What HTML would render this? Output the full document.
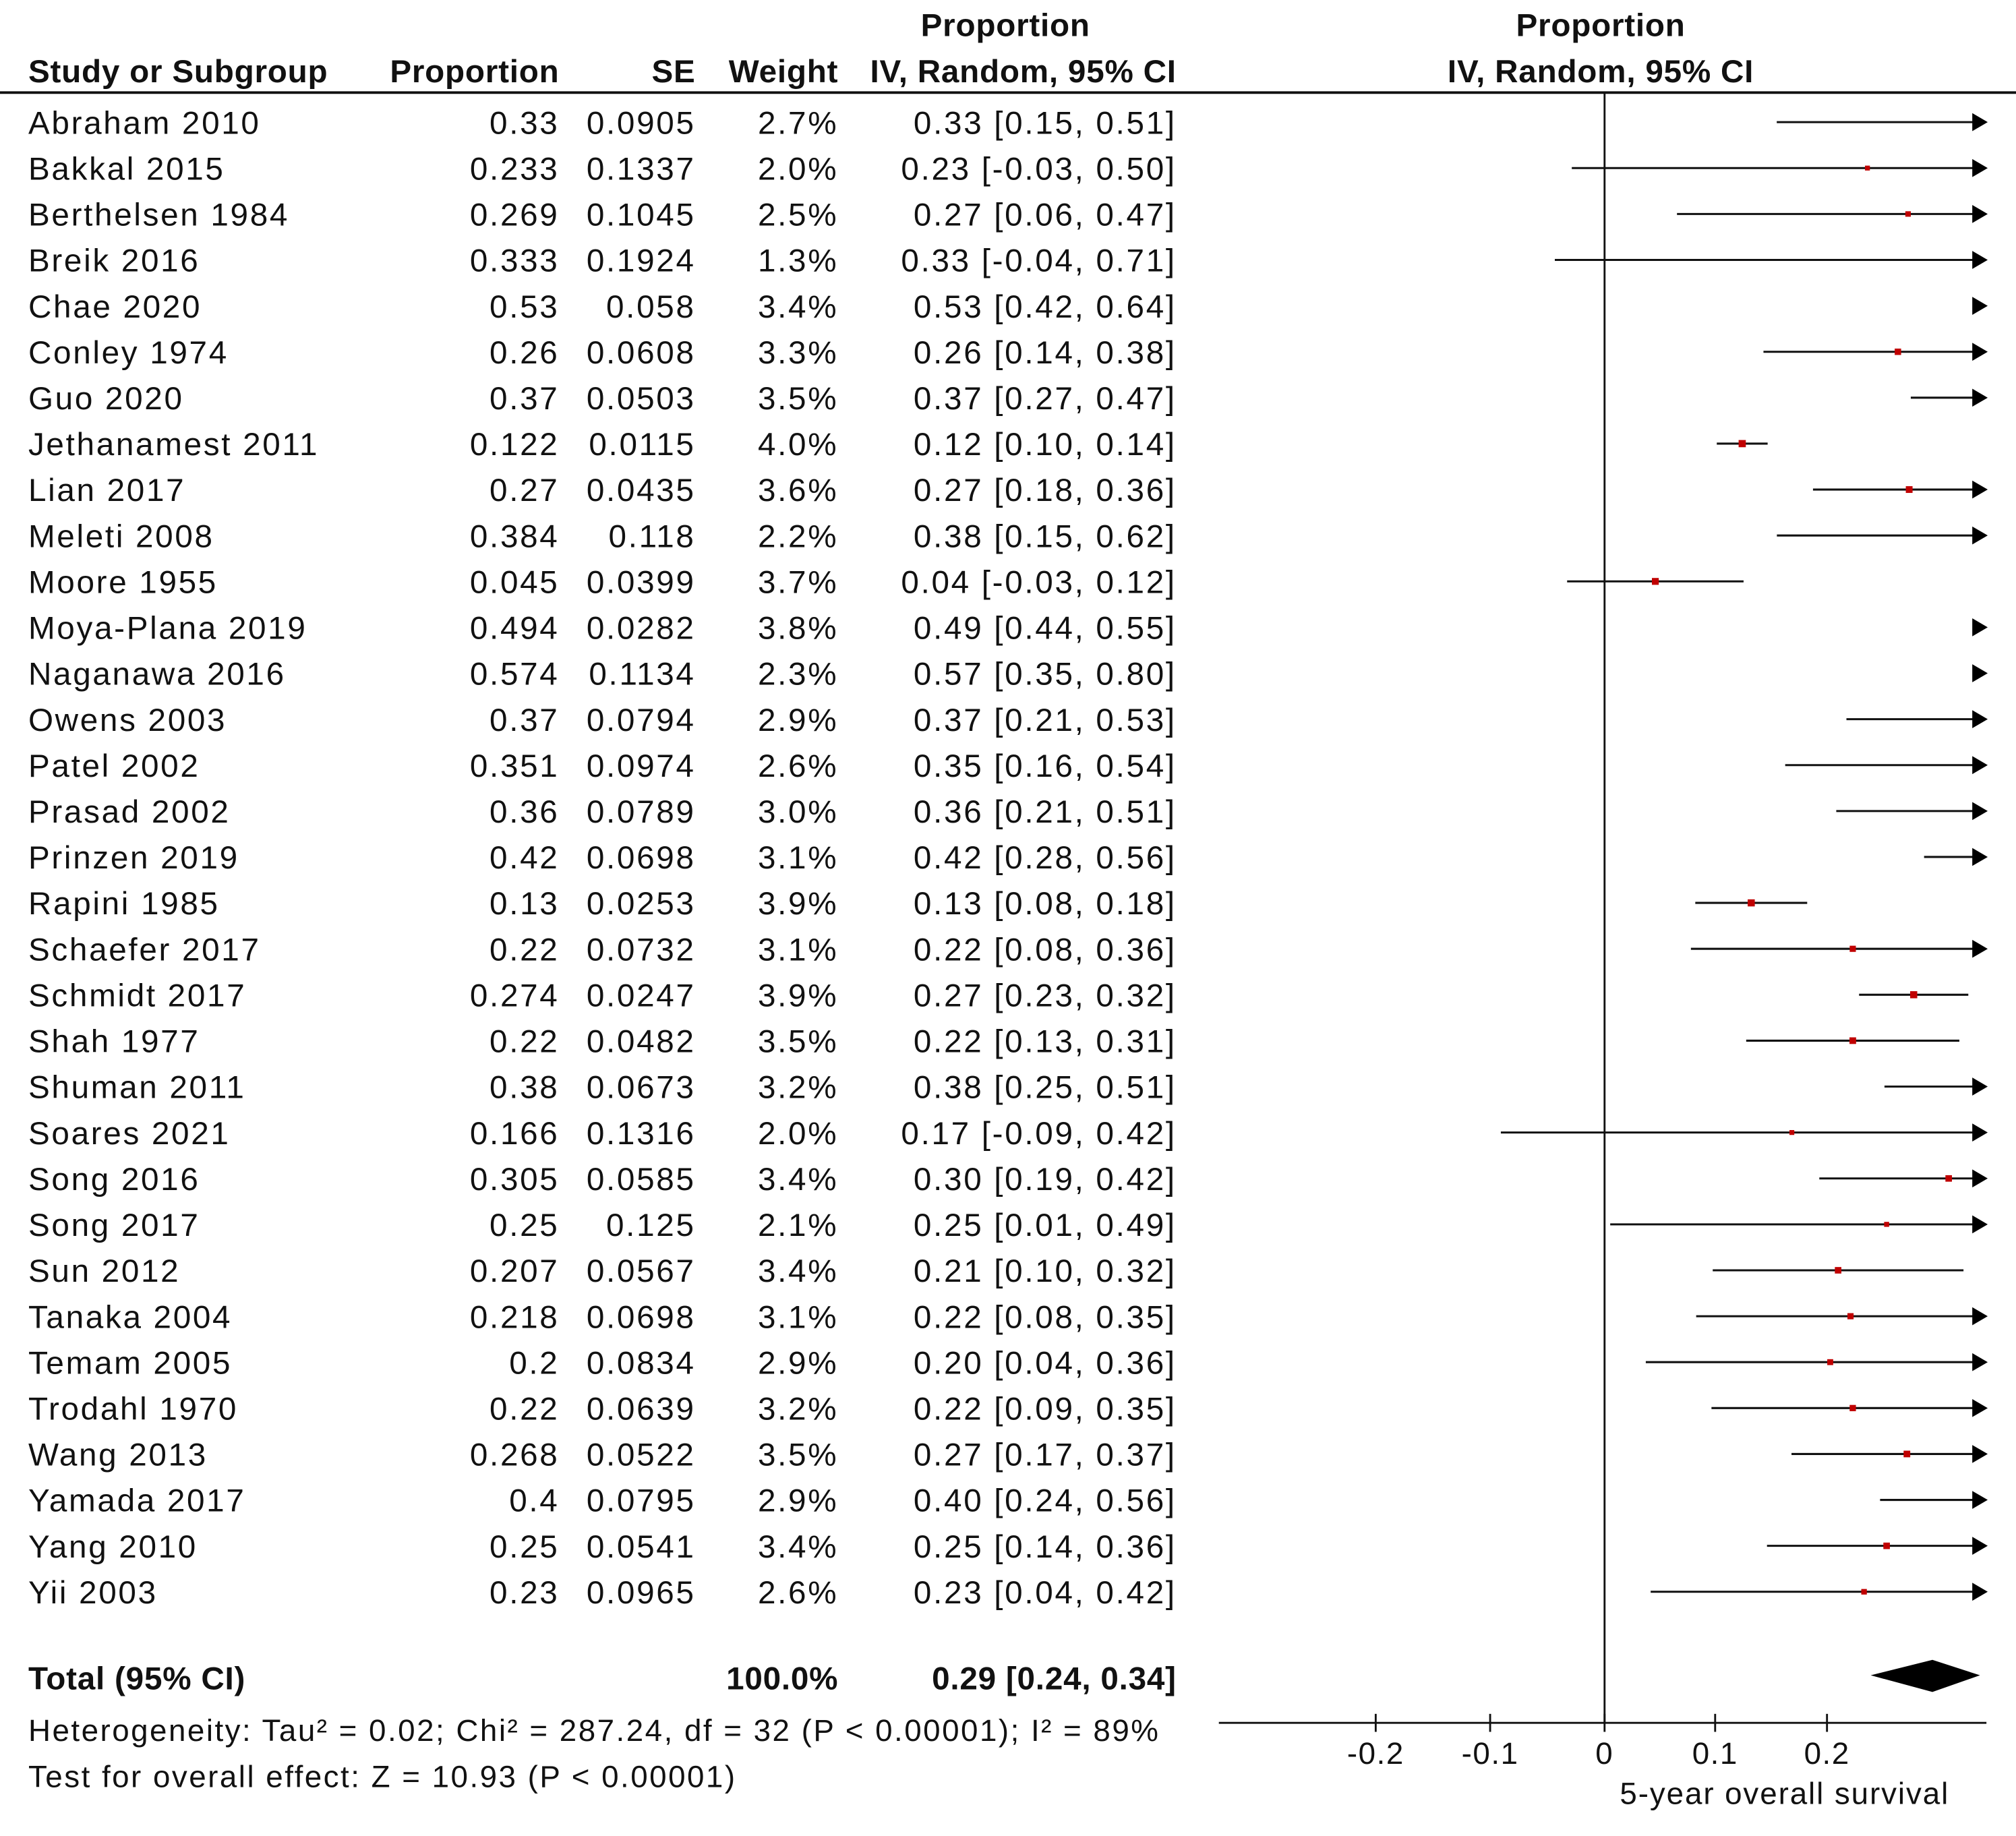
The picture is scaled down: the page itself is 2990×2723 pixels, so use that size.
<!DOCTYPE html>
<html><head><meta charset="utf-8"><style>
html,body{margin:0;padding:0;background:#fff;}
svg{display:block;}
text{font-family:"Liberation Sans",Arial,sans-serif;fill:#111;}
</style></head><body>
<svg id="s" width="2990" height="2723" viewBox="0 0 1568 1428" preserveAspectRatio="none" xmlns="http://www.w3.org/2000/svg">
<g font-weight="bold" font-size="25" letter-spacing="0.4">
<text x="782" y="28" text-anchor="middle">Proportion</text>
<text x="1245" y="28" text-anchor="middle">Proportion</text>
<text x="22" y="64">Study or Subgroup</text>
<text x="435" y="64" text-anchor="end">Proportion</text>
<text x="541" y="64" text-anchor="end">SE</text>
<text x="652" y="64" text-anchor="end">Weight</text>
<text x="915" y="64" text-anchor="end">IV, Random, 95% CI</text>
<text x="1245" y="64" text-anchor="middle">IV, Random, 95% CI</text>
<text x="22" y="1314">Total (95% CI)</text>
<text x="652" y="1314" text-anchor="end">100.0%</text>
<text x="915" y="1314" text-anchor="end">0.29 [0.24, 0.34]</text>
</g>
<line x1="0" y1="72" x2="1568" y2="72" stroke="#111" stroke-width="2"/>
<line x1="1248" y1="72" x2="1248" y2="1340" stroke="#111" stroke-width="1.5"/>
<line x1="948" y1="1340" x2="1545" y2="1340" stroke="#111" stroke-width="1.5"/>
<g id="rows" font-size="25" letter-spacing="1.4"></g>
<polygon points="1455,1303 1503,1291 1540,1303 1503,1316" fill="#000"/>
<g font-size="24" letter-spacing="1.3">
<text x="22" y="1354">Heterogeneity: Tau² = 0.02; Chi² = 287.24, df = 32 (P &lt; 0.00001); I² = 89%</text>
<text x="22" y="1390">Test for overall effect: Z = 10.93 (P &lt; 0.00001)</text>
</g>
<g font-size="24" letter-spacing="0.8">
<text x="1070" y="1372" text-anchor="middle">-0.2</text>
<text x="1159" y="1372" text-anchor="middle">-0.1</text>
<text x="1248" y="1372" text-anchor="middle">0</text>
<text x="1334" y="1372" text-anchor="middle">0.1</text>
<text x="1421" y="1372" text-anchor="middle">0.2</text>
<text x="1388" y="1403" text-anchor="middle" letter-spacing="1">5-year overall survival</text>
</g>
<g stroke="#111" stroke-width="1.5">
<line x1="1070" y1="1333" x2="1070" y2="1347"/><line x1="1159" y1="1333" x2="1159" y2="1347"/><line x1="1248" y1="1333" x2="1248" y2="1347"/><line x1="1334" y1="1333" x2="1334" y2="1347"/><line x1="1421" y1="1333" x2="1421" y2="1347"/>
</g>
</svg>
<script>
var d=[["Abraham 2010","0.33","0.0905","2.7%","0.33 [0.15, 0.51]"],["Bakkal 2015","0.233","0.1337","2.0%","0.23 [-0.03, 0.50]"],["Berthelsen 1984","0.269","0.1045","2.5%","0.27 [0.06, 0.47]"],["Breik 2016","0.333","0.1924","1.3%","0.33 [-0.04, 0.71]"],["Chae 2020","0.53","0.058","3.4%","0.53 [0.42, 0.64]"],["Conley 1974","0.26","0.0608","3.3%","0.26 [0.14, 0.38]"],["Guo 2020","0.37","0.0503","3.5%","0.37 [0.27, 0.47]"],["Jethanamest 2011","0.122","0.0115","4.0%","0.12 [0.10, 0.14]"],["Lian 2017","0.27","0.0435","3.6%","0.27 [0.18, 0.36]"],["Meleti 2008","0.384","0.118","2.2%","0.38 [0.15, 0.62]"],["Moore 1955","0.045","0.0399","3.7%","0.04 [-0.03, 0.12]"],["Moya-Plana 2019","0.494","0.0282","3.8%","0.49 [0.44, 0.55]"],["Naganawa 2016","0.574","0.1134","2.3%","0.57 [0.35, 0.80]"],["Owens 2003","0.37","0.0794","2.9%","0.37 [0.21, 0.53]"],["Patel 2002","0.351","0.0974","2.6%","0.35 [0.16, 0.54]"],["Prasad 2002","0.36","0.0789","3.0%","0.36 [0.21, 0.51]"],["Prinzen 2019","0.42","0.0698","3.1%","0.42 [0.28, 0.56]"],["Rapini 1985","0.13","0.0253","3.9%","0.13 [0.08, 0.18]"],["Schaefer 2017","0.22","0.0732","3.1%","0.22 [0.08, 0.36]"],["Schmidt 2017","0.274","0.0247","3.9%","0.27 [0.23, 0.32]"],["Shah 1977","0.22","0.0482","3.5%","0.22 [0.13, 0.31]"],["Shuman 2011","0.38","0.0673","3.2%","0.38 [0.25, 0.51]"],["Soares 2021","0.166","0.1316","2.0%","0.17 [-0.09, 0.42]"],["Song 2016","0.305","0.0585","3.4%","0.30 [0.19, 0.42]"],["Song 2017","0.25","0.125","2.1%","0.25 [0.01, 0.49]"],["Sun 2012","0.207","0.0567","3.4%","0.21 [0.10, 0.32]"],["Tanaka 2004","0.218","0.0698","3.1%","0.22 [0.08, 0.35]"],["Temam 2005","0.2","0.0834","2.9%","0.20 [0.04, 0.36]"],["Trodahl 1970","0.22","0.0639","3.2%","0.22 [0.09, 0.35]"],["Wang 2013","0.268","0.0522","3.5%","0.27 [0.17, 0.37]"],["Yamada 2017","0.4","0.0795","2.9%","0.40 [0.24, 0.56]"],["Yang 2010","0.25","0.0541","3.4%","0.25 [0.14, 0.36]"],["Yii 2003","0.23","0.0965","2.6%","0.23 [0.04, 0.42]"]];
var g=document.getElementById("rows"),h="";
function X(v){return 1248+v*877.5;}
d.forEach(function(r,i){
 var y=95+i*35.72,b=y+9;
 h+='<text x="22" y="'+b+'">'+r[0]+'</text>';
 h+='<text x="435" y="'+b+'" text-anchor="end">'+r[1]+'</text>';
 h+='<text x="541" y="'+b+'" text-anchor="end">'+r[2]+'</text>';
 h+='<text x="652" y="'+b+'" text-anchor="end">'+r[3]+'</text>';
 h+='<text x="915" y="'+b+'" text-anchor="end">'+r[4]+'</text>';
 var p=+r[1],se=+r[2],lo=X(p-1.96*se),hi=X(p+1.96*se),xp=X(p),R=1540;
 var arrow=hi>R;
 if(arrow)hi=R;
 if(lo<R)h+='<line x1="'+lo+'" y1="'+y+'" x2="'+hi+'" y2="'+y+'" stroke="#111" stroke-width="1.6"/>';
 if(xp<=R){var s=2+parseFloat(r[3])*0.9;h+='<rect x="'+(xp-s/2)+'" y="'+(y-s/2)+'" width="'+s+'" height="'+s+'" fill="#c00000"/>';}
 if(arrow)h+='<polygon points="'+(R-6)+','+(y-7)+' '+(R+6)+','+y+' '+(R-6)+','+(y+7)+'" fill="#000"/>';
});
g.innerHTML=h;
</script>
</body></html>
